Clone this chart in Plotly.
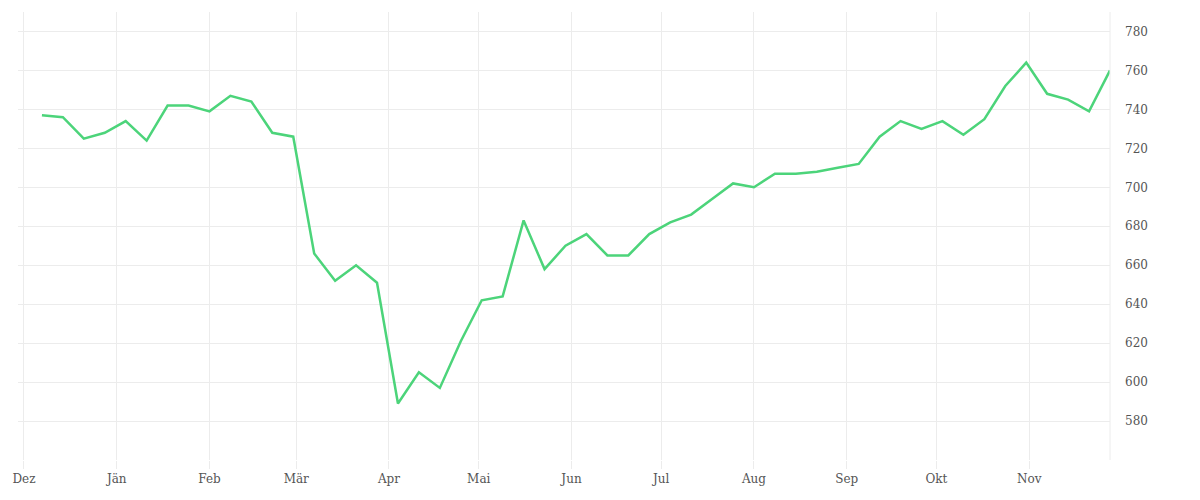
import plotly.graph_objects as go
import pandas as pd

start = "2019-12-07"
values = [737, 736, 725, 728, 734, 724, 742, 742, 739, 747, 744, 728, 726, 666, 652, 660, 651,
          589, 605, 597, 621, 642, 644, 683, 658, 670, 676, 665, 665, 676, 682, 686, 694, 702,
          700, 707, 707, 708, 710, 712, 726, 734, 730, 734, 727, 735, 752, 764, 748, 745, 739, 760]
dates = pd.date_range(start, periods=len(values), freq="7D")
month_ticks = pd.date_range("2019-12-01", "2020-11-01", freq="MS")
month_labels = ["Dez", "Jän", "Feb", "Mär", "Apr", "Mai", "Jun", "Jul", "Aug", "Sep", "Okt", "Nov"]
y_ticks = list(range(560, 781, 20))
y_labels = ["" if v == 560 else str(v) for v in y_ticks]

fig = go.Figure(go.Scatter(x=dates, y=values, mode="lines",
                           line=dict(color="#4cd47a", width=2.5), hoverinfo="skip"))
fig.update_layout(
    width=1200, height=500, margin=dict(l=6, r=98, t=4, b=48),
    plot_bgcolor="white", paper_bgcolor="white", showlegend=False,
    font=dict(family="DejaVu Serif", size=12, color="#555"),
)
fig.update_xaxes(range=["2019-11-29", "2020-11-28"], tickvals=month_ticks, ticktext=month_labels,
                 showgrid=True, gridcolor="#ececec", gridwidth=1, ticks="outside",
                 tickcolor="#ececec", ticklen=8, zeroline=False, showline=False)
fig.update_yaxes(range=[560, 790], side="right", tickvals=y_ticks, ticktext=y_labels,
                 showgrid=True, gridcolor="#ececec", gridwidth=1, zeroline=False,
                 ticks="", ticklabelstandoff=14)
fig.add_shape(type="line", xref="paper", yref="paper", x0=1, x1=1, y0=0, y1=1,
              line=dict(color="#ececec", width=1))
fig.write_html("out.html")
